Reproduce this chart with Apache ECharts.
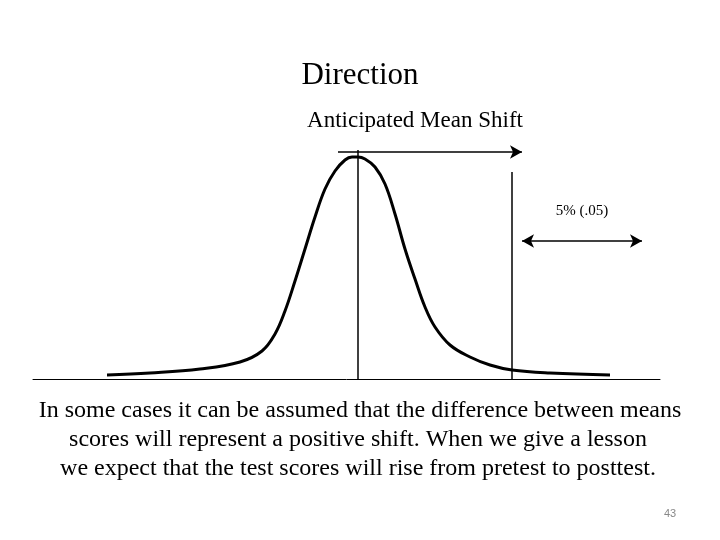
<!DOCTYPE html>
<html><head><meta charset="utf-8">
<script src="https://cdn.jsdelivr.net/npm/echarts@6/dist/echarts.min.js"></script>
<style>html,body{margin:0;background:#fff}#c{width:720px;height:540px}</style>
</head><body><div id="c"></div>
<script>
const curveX = [107,150,200,240,262,275,285,295,305,315,325,335,345,352,358,365,375,385,395,405,415,425,435,450,470,490,512,550,610];
const curveY = [4,6,10,17,28,45,68,98,130,162,190,208,219,222,222,220,212,195,165,130,100,72,52,34,22,14,9,6,4];
const meanX = 358, critX = 512;
const texts = {
  title: 'Direction',
  sub: 'Anticipated Mean Shift',
  alpha: '5% (.05)',
  body: ['In some cases it can be assumed that the difference between means','scores will represent a positive shift. When we give a lesson','we expect that the test scores will rise from pretest to posttest.'],
  page: '43'
};
const F = 'Liberation Serif';
const chart = echarts.init(document.getElementById('c'));
chart.setOption({
  animation:false,
  grid:{left:33,right:60,top:150,bottom:161},
  xAxis:{type:'value',min:33,max:660,axisLine:{lineStyle:{color:'#000',width:1}},axisTick:{show:false},axisLabel:{show:false},splitLine:{show:false}},
  yAxis:{type:'value',min:0,max:229,show:false},
  series:[{
    type:'line',smooth:0.4,symbol:'none',
    data:curveX.map((x,i)=>[x,curveY[i]]),
    lineStyle:{color:'#000',width:3},
    markLine:{silent:true,symbolSize:[10,12],label:{show:false},
      lineStyle:{color:'#000',width:1.5,type:'solid'},
      data:[
        [{coord:[meanX,0],symbol:'none'},{coord:[meanX,229],symbol:'none'}],
        [{coord:[critX,0],symbol:'none'},{coord:[critX,207],symbol:'none'}],
        [{coord:[338,227],symbol:'none'},{coord:[522,227],symbol:'arrow'}],
        [{coord:[522,138],symbol:'arrow'},{coord:[642,138],symbol:'arrow'}]
      ]}
  }],
  graphic:[
    {type:'text',style:{x:360,y:60,text:texts.title,font:'31px '+F,fill:'#000',textAlign:'center'}},
    {type:'text',style:{x:415,y:109,text:texts.sub,font:'23px '+F,fill:'#000',textAlign:'center'}},
    {type:'text',style:{x:582,y:204,text:texts.alpha,font:'15px '+F,fill:'#000',textAlign:'center'}},
    {type:'text',style:{x:360,y:399,text:texts.body[0],font:'24px '+F,fill:'#000',textAlign:'center'}},
    {type:'text',style:{x:358,y:428,text:texts.body[1],font:'24px '+F,fill:'#000',textAlign:'center'}},
    {type:'text',style:{x:358,y:457,text:texts.body[2],font:'24px '+F,fill:'#000',textAlign:'center'}},
    {type:'text',style:{x:670,y:508,text:texts.page,font:'11px Liberation Sans',fill:'#888',textAlign:'center'}}
  ]
});
</script></body></html>
